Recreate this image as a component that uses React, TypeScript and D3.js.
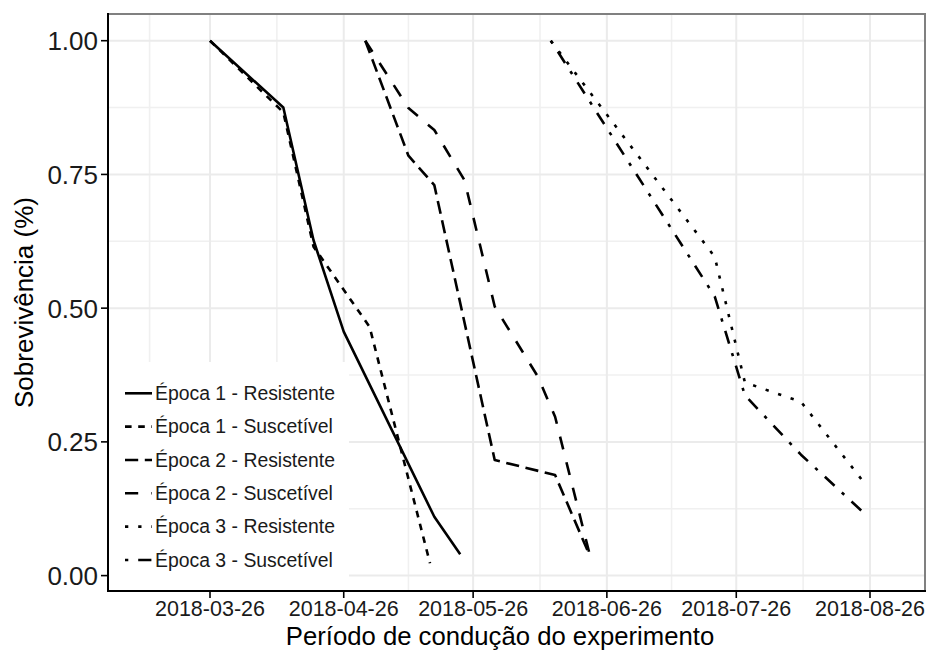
import React, { useEffect, useRef } from "react";
import * as d3 from "d3";

const W = 928;
const H = 653;

// series, in legend order
const seriesNames = [
  "Época 1 - Resistente",
  "Época 1 - Suscetível",
  "Época 2 - Resistente",
  "Época 2 - Suscetível",
  "Época 3 - Resistente",
  "Época 3 - Suscetível",
];
// ggplot linetypes: solid, 22, 42, 44, 13, 1343
const dashPatterns = [[], [2, 2], [4, 2], [4, 4], [1, 3], [1, 3, 4, 3]];

const e1rDates = ["2018-03-26", "2018-04-12", "2018-04-19", "2018-04-26", "2018-05-17", "2018-05-23"];
const e1rValues = [1.0, 0.875, 0.627, 0.456, 0.11, 0.04];

const e1sDates = ["2018-03-26", "2018-04-12", "2018-04-19", "2018-05-02", "2018-05-16"];
const e1sValues = [1.0, 0.866, 0.615, 0.465, 0.023];

const e2rDates = ["2018-05-01", "2018-05-11", "2018-05-17", "2018-05-31", "2018-06-14", "2018-06-22"];
const e2rValues = [1.0, 0.785, 0.73, 0.216, 0.188, 0.038];

const e2sDates = ["2018-05-01", "2018-05-11", "2018-05-17", "2018-05-24", "2018-05-31", "2018-06-10", "2018-06-14", "2018-06-17", "2018-06-22"];
const e2sValues = [1.0, 0.874, 0.833, 0.739, 0.503, 0.372, 0.297, 0.2, 0.04];

const e3rDates = ["2018-06-13", "2018-07-21", "2018-07-28", "2018-08-10", "2018-08-25"];
const e3rValues = [1.0, 0.596, 0.361, 0.325, 0.17];

const e3sDates = ["2018-06-13", "2018-07-21", "2018-07-28", "2018-08-10", "2018-08-25"];
const e3sValues = [1.0, 0.522, 0.337, 0.226, 0.114];

const xTickLabels = ["2018-03-26", "2018-04-26", "2018-05-26", "2018-06-26", "2018-07-26", "2018-08-26"];
const yTicks = [0, 0.25, 0.5, 0.75, 1.0];
const yMinor = [0.125, 0.375, 0.625, 0.875];

const xTitle = "Período de condução do experimento";
const yTitle = "Sobrevivência (%)";

const FONT = "'Liberation Sans', Arial, sans-serif";

const parse = d3.utcParse("%Y-%m-%d");

const App = () => {
  const svgRef = useRef(null);

  useEffect(() => {
    const svg = d3.select(svgRef.current);
    svg.selectAll("*").remove();

    const panel = { left: 108, right: 925, top: 14, bottom: 591 };

    const x = d3.scaleUtc()
      .domain([parse(xTickLabels[0]), parse(xTickLabels[xTickLabels.length - 1])])
      .range([210, 870]);
    const y = d3.scaleLinear().domain([0, 1]).range([575.6, 40.7]);

    const series = [
      { dates: e1rDates, values: e1rValues },
      { dates: e1sDates, values: e1sValues },
      { dates: e2rDates, values: e2rValues },
      { dates: e2sDates, values: e2sValues },
      { dates: e3rDates, values: e3rValues },
      { dates: e3sDates, values: e3sValues },
    ].map((s, i) => ({
      name: seriesNames[i],
      dash: dashPatterns[i],
      points: s.dates.map((d, j) => ({ date: parse(d), value: s.values[j] })),
    }));

    const unit = 3.3;
    const lineW = 2.6;
    const dashStr = (p) => (p.length ? p.map((d) => d * unit).join(" ") : null);

    svg.append("defs").append("clipPath").attr("id", "panel-clip")
      .append("rect")
      .attr("x", panel.left).attr("y", panel.top)
      .attr("width", panel.right - panel.left).attr("height", panel.bottom - panel.top);

    // minor x gridlines halfway between month ticks
    const tickDates = xTickLabels.map(parse);
    const extended = [d3.utcMonth.offset(tickDates[0], -1), ...tickDates, d3.utcMonth.offset(tickDates[tickDates.length - 1], 1)];
    const xMinor = d3.pairs(extended).map(([a, b]) => new Date((+a + +b) / 2))
      .filter((d) => x(d) > panel.left && x(d) < panel.right);

    const grid = svg.append("g").attr("clip-path", "url(#panel-clip)");
    grid.selectAll(".vminor").data(xMinor).join("line")
      .attr("x1", (d) => x(d)).attr("x2", (d) => x(d))
      .attr("y1", panel.top).attr("y2", panel.bottom)
      .attr("stroke", "#f0f0f0").attr("stroke-width", 1.6);
    grid.selectAll(".hminor").data(yMinor).join("line")
      .attr("x1", panel.left).attr("x2", panel.right)
      .attr("y1", (d) => y(d)).attr("y2", (d) => y(d))
      .attr("stroke", "#f0f0f0").attr("stroke-width", 1.6);
    grid.selectAll(".vmajor").data(tickDates).join("line")
      .attr("x1", (d) => x(d)).attr("x2", (d) => x(d))
      .attr("y1", panel.top).attr("y2", panel.bottom)
      .attr("stroke", "#ebebeb").attr("stroke-width", 2);
    grid.selectAll(".hmajor").data(yTicks).join("line")
      .attr("x1", panel.left).attr("x2", panel.right)
      .attr("y1", (d) => y(d)).attr("y2", (d) => y(d))
      .attr("stroke", "#ebebeb").attr("stroke-width", 2);

    const line = d3.line().x((d) => x(d.date)).y((d) => y(d.value));
    const lines = svg.append("g").attr("clip-path", "url(#panel-clip)");
    series.forEach((s) => {
      lines.append("path")
        .attr("d", line(s.points))
        .attr("fill", "none")
        .attr("stroke", "black")
        .attr("stroke-width", lineW)
        .attr("stroke-linejoin", "round")
        .attr("stroke-dasharray", dashStr(s.dash));
    });

    // legend, inside the panel at bottom-left
    const legend = svg.append("g");
    legend.append("rect")
      .attr("x", panel.left).attr("y", 362)
      .attr("width", 349 - panel.left).attr("height", panel.bottom - 362)
      .attr("fill", "white");
    const legY = d3.scalePoint().domain(seriesNames).range([393.3, 560]);
    seriesNames.forEach((name, i) => {
      legend.append("line")
        .attr("x1", 125).attr("x2", 152)
        .attr("y1", legY(name)).attr("y2", legY(name))
        .attr("stroke", "black").attr("stroke-width", lineW)
        .attr("stroke-dasharray", dashStr(dashPatterns[i]));
      legend.append("text")
        .attr("x", 155).attr("y", legY(name))
        .attr("dy", "0.35em")
        .attr("font-family", FONT).attr("font-size", 19.4)
        .attr("fill", "#1a1a1a")
        .text(name);
    });

    // panel border (grey) then axis lines (black)
    svg.append("rect")
      .attr("x", panel.left).attr("y", panel.top)
      .attr("width", panel.right - panel.left).attr("height", panel.bottom - panel.top)
      .attr("fill", "none").attr("stroke", "#808080").attr("stroke-width", 2);
    svg.append("line")
      .attr("x1", panel.left).attr("x2", panel.left)
      .attr("y1", panel.top - 1).attr("y2", panel.bottom + 1)
      .attr("stroke", "black").attr("stroke-width", 2);
    svg.append("line")
      .attr("x1", panel.left - 1).attr("x2", panel.right + 1)
      .attr("y1", panel.bottom).attr("y2", panel.bottom)
      .attr("stroke", "black").attr("stroke-width", 2);

    // y axis ticks and labels
    const yAxis = svg.append("g");
    yAxis.selectAll("line").data(yTicks).join("line")
      .attr("x1", panel.left - 7).attr("x2", panel.left)
      .attr("y1", (d) => y(d)).attr("y2", (d) => y(d))
      .attr("stroke", "black").attr("stroke-width", 1.6);
    yAxis.selectAll("text").data(yTicks).join("text")
      .attr("x", panel.left - 10).attr("y", (d) => y(d))
      .attr("dy", "0.36em")
      .attr("text-anchor", "end")
      .attr("font-family", FONT).attr("font-size", 26)
      .attr("fill", "#1a1a1a")
      .text((d) => d3.format(".2f")(d));

    // x axis ticks and labels
    const xAxis = svg.append("g");
    xAxis.selectAll("line").data(tickDates).join("line")
      .attr("x1", (d) => x(d)).attr("x2", (d) => x(d))
      .attr("y1", panel.bottom).attr("y2", panel.bottom + 7)
      .attr("stroke", "black").attr("stroke-width", 1.6);
    xAxis.selectAll("text").data(tickDates).join("text")
      .attr("x", (d) => x(d)).attr("y", 616)
      .attr("text-anchor", "middle")
      .attr("font-family", FONT).attr("font-size", 21.5)
      .attr("fill", "#1a1a1a")
      .text((d, i) => xTickLabels[i]);

    // axis titles
    svg.append("text")
      .attr("x", 500).attr("y", 645)
      .attr("text-anchor", "middle")
      .attr("font-family", FONT).attr("font-size", 25.7)
      .attr("fill", "black")
      .text(xTitle);
    svg.append("text")
      .attr("transform", `translate(33,${(panel.top + panel.bottom) / 2}) rotate(-90)`)
      .attr("text-anchor", "middle")
      .attr("font-family", FONT).attr("font-size", 26)
      .attr("fill", "black")
      .text(yTitle);
  }, []);

  return (
    <svg
      ref={svgRef}
      width={W}
      height={H}
      viewBox={`0 0 ${W} ${H}`}
      style={{ position: "absolute", left: 0, top: 0, background: "white" }}
    />
  );
};

export default App;
